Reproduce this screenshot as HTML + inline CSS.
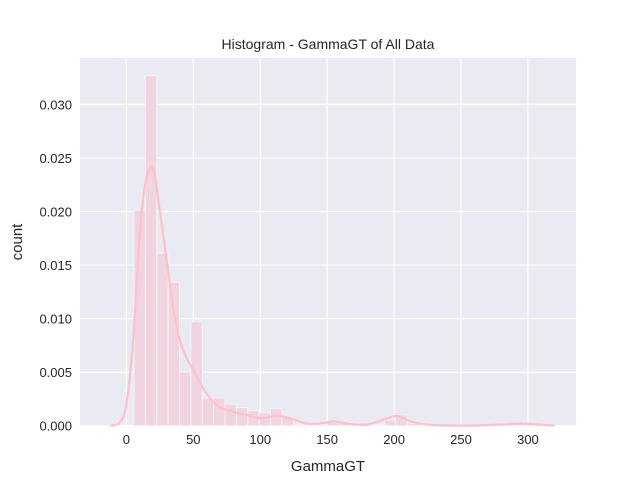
<!DOCTYPE html>
<html><head><meta charset="utf-8"><style>
body{margin:0;background:#fff;width:640px;height:478px;overflow:hidden}
text{font-family:"Liberation Sans","DejaVu Sans",sans-serif;fill:#262626}
</style></head><body>
<svg width="640" height="478" id="svg">
<rect x="80" y="58" width="496" height="368" fill="#eaeaf2"/>
<g id="grid"></g><g id="bars"></g><g id="kde"></g><g id="ticks"></g>
<text x="328" y="49" text-anchor="middle" font-size="14">Histogram - GammaGT of All Data</text>
<text x="328" y="471" text-anchor="middle" font-size="15">GammaGT</text>
<text transform="translate(22,242) rotate(-90)" text-anchor="middle" font-size="15">count</text>
</svg>
<script>
const binStart = 5.7, binWidth = 8.5;
const binHeights = [0.0201,0.0327,0.0161,0.0134,0.0050,0.0097,0.0026,0.0026,0.0020,0.0017,0.0014,0.0012,0.0016,0.0008,0.0001,0,0.0001,0.0003,0.0003,0.0001,0,0.0001,0.0005,0.0010,0.0002,0,0,0,0,0,0,0,0,0.0001,0.0002,0.0001];
const kdeX = [-12,-5,0,5,10,14,18,21,25,30,35,40,45,50,55,60,65,70,80,90,100,110,115,125,135,145,155,165,180,195,203,212,225,250,280,295,310,320];
const kdeY = [0,0.0003,0.002,0.008,0.018,0.0225,0.0241,0.0235,0.02,0.0155,0.011,0.008,0.0063,0.0052,0.004,0.003,0.0022,0.0017,0.0013,0.0010,0.0007,0.0009,0.0009,0.0006,0.0002,0.0002,0.0004,0.0002,0.0001,0.0007,0.0009,0.0004,0.0001,0,0.0001,0.0002,0.0001,0];
const xTicks = [0,50,100,150,200,250,300];
const yTicks = [0,0.005,0.010,0.015,0.020,0.025,0.030];
const X = v => 126.4 + v*1.3385;
const Y = v => 425.7 - v*10710;
const NS='http://www.w3.org/2000/svg';
function mk(tag,attrs,parent){const e=document.createElementNS(NS,tag);for(const k in attrs)e.setAttribute(k,attrs[k]);document.getElementById(parent).appendChild(e);return e;}
xTicks.forEach(t=>{
  const l=mk('line',{x1:X(t),x2:X(t),y1:58,y2:426,stroke:'#fff','stroke-width':1.2},'grid');
  
  
  const tx=mk('text',{x:X(t),y:444,'text-anchor':'middle','font-size':13},'ticks');
  tx.textContent=t;
  
  
});
yTicks.forEach(t=>{
  const l=mk('line',{x1:80,x2:576,y1:Y(t),y2:Y(t),stroke:'#fff','stroke-width':1.2},'grid');
  
  
  const tx=mk('text',{x:72,y:Y(t)+5,'text-anchor':'end','font-size':13},'ticks');
  tx.textContent=t.toFixed(3);
  
  
});
binHeights.forEach((h,i)=>{
  if(h<=0)return;
  const x0=X(binStart+i*binWidth), x1=X(binStart+(i+1)*binWidth);
  const r=mk('rect',{x:x0,y:Y(h),width:x1-x0,height:Y(0)-Y(h),fill:'#f0d4df',stroke:'#f5f3f7','stroke-width':1},'bars');
  
  
});
const pts=kdeX.map((v,i)=>[X(v),Y(kdeY[i])]);
let d='M'+pts[0][0].toFixed(1)+','+pts[0][1].toFixed(1);
for(let i=0;i<pts.length-1;i++){
  const p0=pts[Math.max(0,i-1)],p1=pts[i],p2=pts[i+1],p3=pts[Math.min(pts.length-1,i+2)];
  const c1=[p1[0]+(p2[0]-p0[0])/6,p1[1]+(p2[1]-p0[1])/6];
  const c2=[p2[0]-(p3[0]-p1[0])/6,p2[1]-(p3[1]-p1[1])/6];
  d+='C'+c1[0].toFixed(1)+','+c1[1].toFixed(1)+' '+c2[0].toFixed(1)+','+c2[1].toFixed(1)+' '+p2[0].toFixed(1)+','+p2[1].toFixed(1);
}
const p=mk('path',{d:d,fill:'none',stroke:'#ffc0cb','stroke-width':2.2,'stroke-linejoin':'round'},'kde');


</script>
</body></html>
